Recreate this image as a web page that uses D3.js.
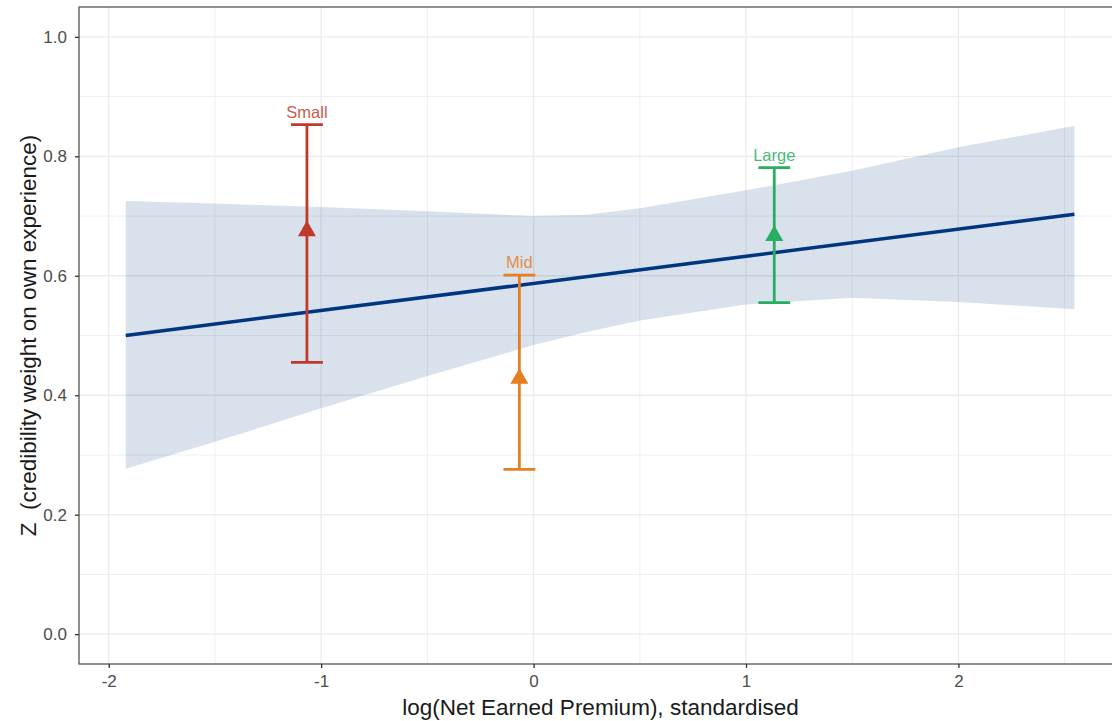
<!DOCTYPE html>
<html>
<head>
<meta charset="utf-8">
<script src="https://cdn.jsdelivr.net/npm/d3@7"></script>
<style>
  body { margin: 0; background: #fff; }
  svg { font-family: "Liberation Sans", Arial, sans-serif; }
</style>
</head>
<body>
<div id="chart"></div>
<script>
// fitted line (straight) and its band
var lineX = [-1.92, 2.546];
var lineY = [0.500, 0.703];

var bandX     = [-1.92, -1.5, -1.0, -0.5, 0.0, 0.25, 0.5, 1.0, 1.5, 2.0, 2.546];
var bandUpper = [0.725, 0.721, 0.715, 0.708, 0.700, 0.702, 0.713, 0.743, 0.776, 0.815, 0.851];
var bandLower = [0.277, 0.322, 0.378, 0.432, 0.484, 0.506, 0.525, 0.552, 0.563, 0.556, 0.544];

// group estimates with intervals
var groups     = ["Small", "Mid", "Large"];
var groupX     = [-1.067, -0.067, 1.133];
var groupZ     = [0.675, 0.428, 0.667];
var groupLow   = [0.455, 0.276, 0.555];
var groupHigh  = [0.853, 0.601, 0.781];
var groupColor = ["#c0392b", "#e67e22", "#27ae60"];

var xTicks = [-2, -1, 0, 1, 2];
var xMinor = [-1.5, -0.5, 0.5, 1.5, 2.5];
var yTicks = [0, 0.2, 0.4, 0.6, 0.8, 1.0];
var yMinor = [0.1, 0.3, 0.5, 0.7, 0.9];

var W = 1112, H = 721;
var panel = {left: 79, top: 7, right: 1122, bottom: 664};

var svg = d3.select("#chart").append("svg")
    .attr("width", W)
    .attr("height", H);

var x = d3.scaleLinear().domain([-2.14, 2.77]).range([panel.left, panel.right]);
var y = d3.scaleLinear().domain([-0.05, 1.05]).range([panel.bottom, panel.top]);

// grid
var grid = svg.append("g");
grid.selectAll(".ymin").data(yMinor).enter().append("line")
    .attr("x1", panel.left).attr("x2", panel.right)
    .attr("y1", d => y(d)).attr("y2", d => y(d))
    .attr("stroke", "#efefef").attr("stroke-width", 1);
grid.selectAll(".xmin").data(xMinor).enter().append("line")
    .attr("y1", panel.top).attr("y2", panel.bottom)
    .attr("x1", d => x(d)).attr("x2", d => x(d))
    .attr("stroke", "#efefef").attr("stroke-width", 1);
grid.selectAll(".ymaj").data(yTicks).enter().append("line")
    .attr("x1", panel.left).attr("x2", panel.right)
    .attr("y1", d => y(d)).attr("y2", d => y(d))
    .attr("stroke", "#ebebeb").attr("stroke-width", 1.3);
grid.selectAll(".xmaj").data(xTicks).enter().append("line")
    .attr("y1", panel.top).attr("y2", panel.bottom)
    .attr("x1", d => x(d)).attr("x2", d => x(d))
    .attr("stroke", "#ebebeb").attr("stroke-width", 1.3);

// ribbon
var band = bandX.map((d, i) => ({x: d, lo: bandLower[i], hi: bandUpper[i]}));
svg.append("path")
    .datum(band)
    .attr("d", d3.area().x(d => x(d.x)).y0(d => y(d.lo)).y1(d => y(d.hi)))
    .attr("fill", "#1f4e8c")
    .attr("fill-opacity", 0.17);

// fitted line
svg.append("path")
    .datum(lineX.map((d, i) => [d, lineY[i]]))
    .attr("d", d3.line().x(d => x(d[0])).y(d => y(d[1])))
    .attr("fill", "none")
    .attr("stroke", "#003580")
    .attr("stroke-width", 3.5);

// error bars + points
var capHalf = 0.075;
var bars = groups.map((g, i) => ({
  name: g, x: groupX[i], z: groupZ[i], lo: groupLow[i], hi: groupHigh[i], col: groupColor[i]
}));
var bg = svg.selectAll(".bar").data(bars).enter().append("g");
bg.append("line")
    .attr("x1", d => x(d.x)).attr("x2", d => x(d.x))
    .attr("y1", d => y(d.lo)).attr("y2", d => y(d.hi))
    .attr("stroke", d => d.col).attr("stroke-width", 2.8);
bg.append("line")
    .attr("x1", d => x(d.x - capHalf)).attr("x2", d => x(d.x + capHalf))
    .attr("y1", d => y(d.hi)).attr("y2", d => y(d.hi))
    .attr("stroke", d => d.col).attr("stroke-width", 2.8);
bg.append("line")
    .attr("x1", d => x(d.x - capHalf)).attr("x2", d => x(d.x + capHalf))
    .attr("y1", d => y(d.lo)).attr("y2", d => y(d.lo))
    .attr("stroke", d => d.col).attr("stroke-width", 2.8);
bg.append("path")
    .attr("d", d3.symbol().type(d3.symbolTriangle).size(140))
    .attr("transform", d => "translate(" + x(d.x) + "," + y(d.z) + ")")
    .attr("fill", d => d.col);
bg.append("text")
    .attr("x", d => x(d.x))
    .attr("y", d => y(d.hi) - 7)
    .attr("text-anchor", "middle")
    .attr("font-size", 16.5)
    .attr("fill", d => d.col)
    .attr("fill-opacity", 0.85)
    .text(d => d.name);

// panel border (right side runs off the window)
svg.append("rect")
    .attr("x", panel.left).attr("y", panel.top)
    .attr("width", panel.right - panel.left).attr("height", panel.bottom - panel.top)
    .attr("fill", "none").attr("stroke", "#555").attr("stroke-width", 1.3);

// axes
var xAxis = svg.append("g")
    .attr("transform", "translate(0," + panel.bottom + ")")
    .call(d3.axisBottom(x).tickValues(xTicks).tickSize(4).tickPadding(7).tickFormat(d3.format("d")));
var yAxis = svg.append("g")
    .attr("transform", "translate(" + panel.left + ",0)")
    .call(d3.axisLeft(y).tickValues(yTicks).tickSize(4).tickPadding(8).tickFormat(d3.format(".1f")));
[xAxis, yAxis].forEach(a => {
  a.select(".domain").remove();
  a.selectAll(".tick line").attr("stroke", "#333").attr("stroke-width", 1.3);
  a.selectAll(".tick text").attr("fill", "#4d4d4d").attr("font-size", 17)
      .attr("font-family", "'Liberation Sans', Arial, sans-serif");
});
xAxis.selectAll(".tick text").text(d => d < 0 ? "-" + Math.abs(d) : d);

// axis titles
svg.append("text")
    .attr("x", (panel.left + panel.right) / 2)
    .attr("y", 715)
    .attr("text-anchor", "middle")
    .attr("font-size", 22.5)
    .attr("fill", "#1a1a1a")
    .text("log(Net Earned Premium), standardised");
svg.append("text")
    .attr("transform", "translate(36," + ((panel.top + panel.bottom) / 2) + ") rotate(-90)")
    .attr("text-anchor", "middle")
    .attr("font-size", 22.5)
    .attr("fill", "#1a1a1a")
    .attr("xml:space", "preserve")
    .style("white-space", "pre")
    .text("Z  (credibility weight on own experience)");
</script>
</body>
</html>
